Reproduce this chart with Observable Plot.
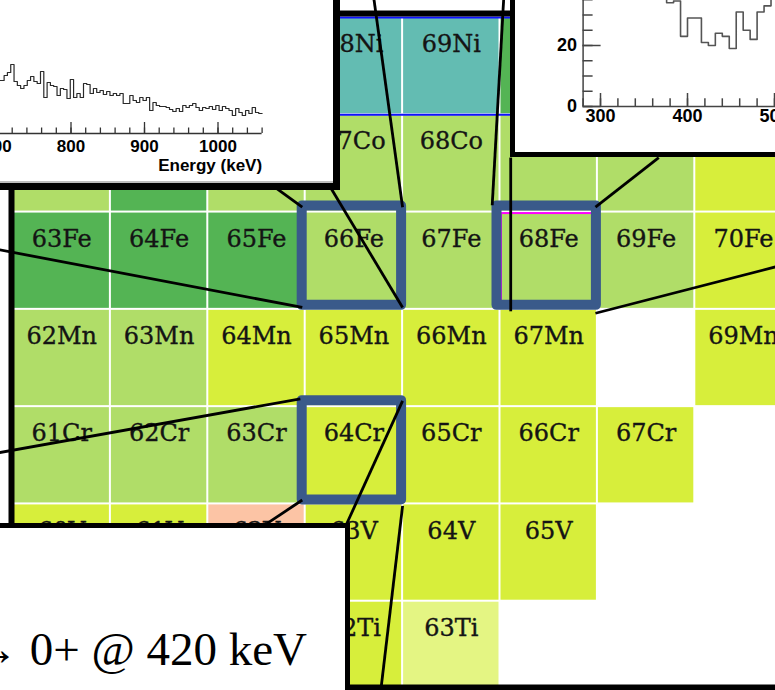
<!DOCTYPE html>
<html>
<head>
<meta charset="utf-8">
<script src="https://cdn.jsdelivr.net/npm/d3@7"></script>
<script src="https://cdn.jsdelivr.net/npm/@observablehq/plot@0.6"></script>
<style>
  html, body { margin: 0; padding: 0; background: #fff; }
  #chart { position: relative; width: 775px; height: 690px; overflow: hidden; background: #fff; }
  #chart > svg { position: absolute; left: 0; top: 0; max-width: none !important; }
  .inset { position: absolute; background: #fff; overflow: hidden; box-sizing: content-box; }
  .inset svg { position: absolute; max-width: none !important; }
  #spec-a { left: 0; top: 0; width: 333px; height: 183px; border-right: 7px solid #000; border-bottom: 7px solid #000; }
  #spec-a .edge { position: absolute; left: 0; right: 0; bottom: 0; height: 2px; background: #bdbdbd; }
  #spec-b { left: 510px; top: 0; width: 270px; height: 152px; border-left: 5px solid #000; border-bottom: 5px solid #000; }
  #note { left: -10px; top: 523px; width: 355px; height: 170px; border-top: 5px solid #000; border-right: 5px solid #000; }
  #note .line { position: absolute; right: 38px; top: 97.6px; font-family: "Liberation Serif", "DejaVu Serif", serif; font-size: 47px; line-height: 1; white-space: nowrap; color: #000; }
</style>
</head>
<body>
<div id="chart">
  <div class="inset" id="spec-a"></div>
  <div class="inset" id="spec-b"></div>
  <div class="inset" id="note"><div class="line">2+ → 0+ @ 420 keV</div></div>
</div>
<script>
// ---- Nuclide chart: proton number of each element ----
const elementZ = {Ti: 22, V: 23, Cr: 24, Mn: 25, Fe: 26, Co: 27, Ni: 28};

// Cells drawn on the chart and their half-life class
const cellLabels = [
  "68Ni", "69Ni", "70Ni",
  "64Co", "65Co", "66Co", "67Co", "68Co", "69Co", "70Co", "71Co",
  "63Fe", "64Fe", "65Fe", "66Fe", "67Fe", "68Fe", "69Fe", "70Fe",
  "62Mn", "63Mn", "64Mn", "65Mn", "66Mn", "67Mn", "69Mn",
  "61Cr", "62Cr", "63Cr", "64Cr", "65Cr", "66Cr", "67Cr",
  "60V", "61V", "62V", "63V", "64V", "65V",
  "62Ti", "63Ti"
];
const cellClasses = [
  "z28", "z28", "long",
  "mid", "long", "mid", "mid", "mid", "mid", "mid", "short",
  "long", "long", "long", "mid", "mid", "mid", "mid", "short",
  "mid", "mid", "short", "short", "short", "short", "short",
  "mid", "mid", "mid", "short", "short", "short", "short",
  "short", "short", "beta-n", "short", "short", "short",
  "short", "vshort"
];
const classOrder = ["z28", "long", "mid", "short", "vshort", "beta-n"];
const classColors = ["#63bcb2", "#54b454", "#b0dd68", "#d7ee3b", "#e4f583", "#fcc4a5"];

// Highlighted nuclides (boxed) and the one with an outlined cell
const boxedLabels = ["66Fe", "68Fe", "64Cr"];
const outlinedLabels = ["68Fe"];

// Callout lines from the boxes toward the spectra, in chart units (N, Z)
const callouts = [
  {N1: 39.06, Z1: 26.85, N2: 39.47, Z2: 26.55},
  {N1: 36.32, Z1: 26.12, N2: 39.47, Z2: 25.52},
  {N1: 40.20, Z1: 28.73, N2: 40.50, Z2: 26.55},
  {N1: 39.72, Z1: 26.82, N2: 40.50, Z2: 25.52},
  {N1: 41.54, Z1: 28.73, N2: 41.42, Z2: 26.57},
  {N1: 41.61, Z1: 27.06, N2: 41.61, Z2: 25.48},
  {N1: 42.48, Z1: 26.55, N2: 43.13, Z2: 27.06},
  {N1: 42.48, Z1: 25.46, N2: 44.38, Z2: 25.95},
  {N1: 36.32, Z1: 24.02, N2: 39.45, Z2: 24.58},
  {N1: 39.11, Z1: 23.30, N2: 39.47, Z2: 23.54},
  {N1: 40.50, Z1: 24.56, N2: 39.91, Z2: 23.26},
  {N1: 40.50, Z1: 23.48, N2: 40.27, Z2: 21.53}
];

// ---- Spectrum A (upper left): 4.5 keV bins from 700 keV ----
const specAStart = 700, specABin = 4.5;
const specACounts = [
  53, 53, 58, 61, 69, 52, 48, 45, 48, 53,
  57, 52, 50, 62, 36, 51, 48, 47, 38, 45,
  44, 35, 54, 36, 40, 36, 50, 49, 40, 45,
  41, 43, 39, 42, 38, 40, 38, 40, 30, 30,
  38, 33, 31, 36, 33, 36, 23, 31, 28, 27,
  27, 26, 24, 22, 25, 22, 28, 26, 28, 30,
  26, 23, 26, 25, 27, 24, 28, 23, 27, 25,
  23, 18, 25, 21, 18, 23, 20, 26, 21, 20
];
const specAMajor = [700, 800, 900, 1000];
const specAMinor = d3.range(660, 1061, 20);

// ---- Spectrum B (upper right): 8 keV bins from 280 keV ----
const specBStart = 280, specBBin = 8;
const specBCounts = [
  44, 51, 58, 63, 60, 55, 49, 52, 46, 43, 47, 40,
  34, 34.6, 23, 29, 29, 21, 20, 24, 23, 19, 31, 25,
  22, 31, 33, 38, 41, 44
];
const specBXMajor = [300, 400, 500];
const specBXMinor = d3.range(280, 521, 20);
const specBYMajor = [0, 20, 40];
const specBYMinor = d3.range(0, 61, 5);

// ---- Build tables ----
const cells = cellLabels.map((label, i) => {
  const [, A, sym] = label.match(/^(\d+)([A-Za-z]+)$/);
  const Z = elementZ[sym];
  return {label, A: +A, Z, N: +A - Z, cls: cellClasses[i]};
});
const byLabel = new Map(cells.map(d => [d.label, d]));
const boxed = boxedLabels.map(l => byLabel.get(l));
const outlined = outlinedLabels.map(l => byLabel.get(l));

const stepPoints = (start, bin, counts) => [
  ...counts.map((c, i) => ({E: start + i * bin, c})),
  {E: start + counts.length * bin, c: counts[counts.length - 1]}
];
const specA = stepPoints(specAStart, specABin, specACounts);
const specB = stepPoints(specBStart, specBBin, specBCounts);

const cellX1 = d => d.N - 0.5, cellX2 = d => d.N + 0.5;
const cellY1 = d => d.Z - 0.5, cellY2 = d => d.Z + 0.5;

// ---- Main nuclide chart ----
const main = Plot.plot({
  width: 775,
  height: 690,
  margin: 0,
  x: {domain: [36.5, 44.5], range: [12.5, 791.7], axis: null},
  y: {domain: [21.5, 28.5], range: [698, 17], axis: null},
  color: {domain: classOrder, range: classColors},
  marks: [
    Plot.rect(cells, {x1: cellX1, x2: cellX2, y1: cellY1, y2: cellY2, fill: "cls", inset: 1}),
    Plot.ruleY([28.5, 27.5], {stroke: "#1010ff", strokeWidth: 2}),
    Plot.text(cells, {
      x: "N", y: cellY2, dy: 27, text: "label",
      fontFamily: "DejaVu Serif", fontSize: 24, fill: "#141414",
      stroke: "#141414", strokeWidth: 0.35
    }),
    Plot.rect(outlined, {x1: cellX1, x2: cellX2, y1: cellY1, y2: cellY2, fill: "none", stroke: "#ff00ff", strokeWidth: 2, inset: 1.5}),
    Plot.rect(boxed, {
      x1: cellX1, x2: cellX2, y1: cellY1, y2: cellY2,
      fill: "none", stroke: "#3a5a8a", strokeWidth: 10, strokeLinejoin: "round",
      insetLeft: -3, insetRight: 1, insetTop: -6, insetBottom: 4
    }),
    Plot.frame({stroke: "#000", strokeWidth: 6, insetLeft: 11, insetTop: 13, insetBottom: 3, insetRight: -20}),
    Plot.link(callouts, {x1: "N1", y1: "Z1", x2: "N2", y2: "Z2", stroke: "#000", strokeWidth: 2.8})
  ]
});
document.getElementById("chart").prepend(main);

// ---- Spectrum A ----
const aW = 433, aH = 200, aML = 67.6, aMR = 71.4, aMT = 10, aMB = 47, aYMax = 143;
const aPxPerCount = (aH - aMT - aMB) / aYMax;
const sansBold = {fontFamily: "Liberation Sans, Arial, sans-serif", fontWeight: "bold", fontSize: 17, fill: "#000"};
const specAPlot = Plot.plot({
  width: aW, height: aH,
  marginLeft: aML, marginRight: aMR, marginTop: aMT, marginBottom: aMB,
  x: {domain: [660, 1060], axis: null},
  y: {domain: [0, aYMax], axis: null},
  marks: [
    Plot.ruleY([0], {stroke: "#333", strokeWidth: 1.4}),
    Plot.ruleX(specAMinor, {x: d => d, y1: 0, y2: 5.5 / aPxPerCount, stroke: "#333", strokeWidth: 1.3}),
    Plot.ruleX(specAMajor, {x: d => d, y1: 0, y2: 11 / aPxPerCount, stroke: "#333", strokeWidth: 1.3}),
    Plot.line(specA, {x: "E", y: "c", curve: "step-after", stroke: "#2a2a2a", strokeWidth: 1.2}),
    Plot.text(specAMajor, {x: d => d, y: 0, dy: 13, text: d => String(d), ...sansBold}),
    Plot.text(["Energy (keV)"], {x: 1060, y: 0, dy: 32, text: d => d, textAnchor: "end", ...sansBold})
  ]
});
specAPlot.style.left = "-100px";
specAPlot.style.top = "-20px";
const specABox = document.getElementById("spec-a");
specABox.append(specAPlot);
const edge = document.createElement("div");
edge.className = "edge";
specABox.append(edge);

// ---- Spectrum B ----
const bW = 300, bH = 272, bML = 67.6, bMR = 23.6, bMT = 43, bMB = 46, bYMax = 60;
const bPxPerKeV = (bW - bML - bMR) / 240;
const bPxPerCount = (bH - bMT - bMB) / bYMax;
const sansBoldB = {fontFamily: "Liberation Sans, Arial, sans-serif", fontWeight: "bold", fontSize: 18, fill: "#000"};
const specBPlot = Plot.plot({
  width: bW, height: bH,
  marginLeft: bML, marginRight: bMR, marginTop: bMT, marginBottom: bMB,
  x: {domain: [280, 520], axis: null},
  y: {domain: [0, bYMax], axis: null},
  marks: [
    Plot.ruleY([0], {stroke: "#444", strokeWidth: 1.5}),
    Plot.ruleX([280], {stroke: "#444", strokeWidth: 1.5}),
    Plot.ruleX(specBXMinor, {x: d => d, y1: 0, y2: 7.7 / bPxPerCount, stroke: "#444", strokeWidth: 1.5}),
    Plot.ruleX(specBXMajor, {x: d => d, y1: 0, y2: 13 / bPxPerCount, stroke: "#444", strokeWidth: 1.5}),
    Plot.ruleY(specBYMinor, {y: d => d, x1: 280, x2: 280 + 10 / bPxPerKeV, stroke: "#444", strokeWidth: 1.5}),
    Plot.ruleY(specBYMajor, {y: d => d, x1: 280, x2: 280 + 18 / bPxPerKeV, stroke: "#444", strokeWidth: 1.5}),
    Plot.line(specB, {x: "E", y: "c", curve: "step-after", stroke: "#555", strokeWidth: 1.6}),
    Plot.text(specBXMajor, {x: d => d, y: 0, dy: 10, text: d => String(d), ...sansBoldB}),
    Plot.text(specBYMajor, {x: 280, y: d => d, dx: -6, text: d => String(d), textAnchor: "end", ...sansBoldB})
  ]
});
specBPlot.style.left = "0px";
specBPlot.style.top = "-120px";
document.getElementById("spec-b").append(specBPlot);
</script>
</body>
</html>
